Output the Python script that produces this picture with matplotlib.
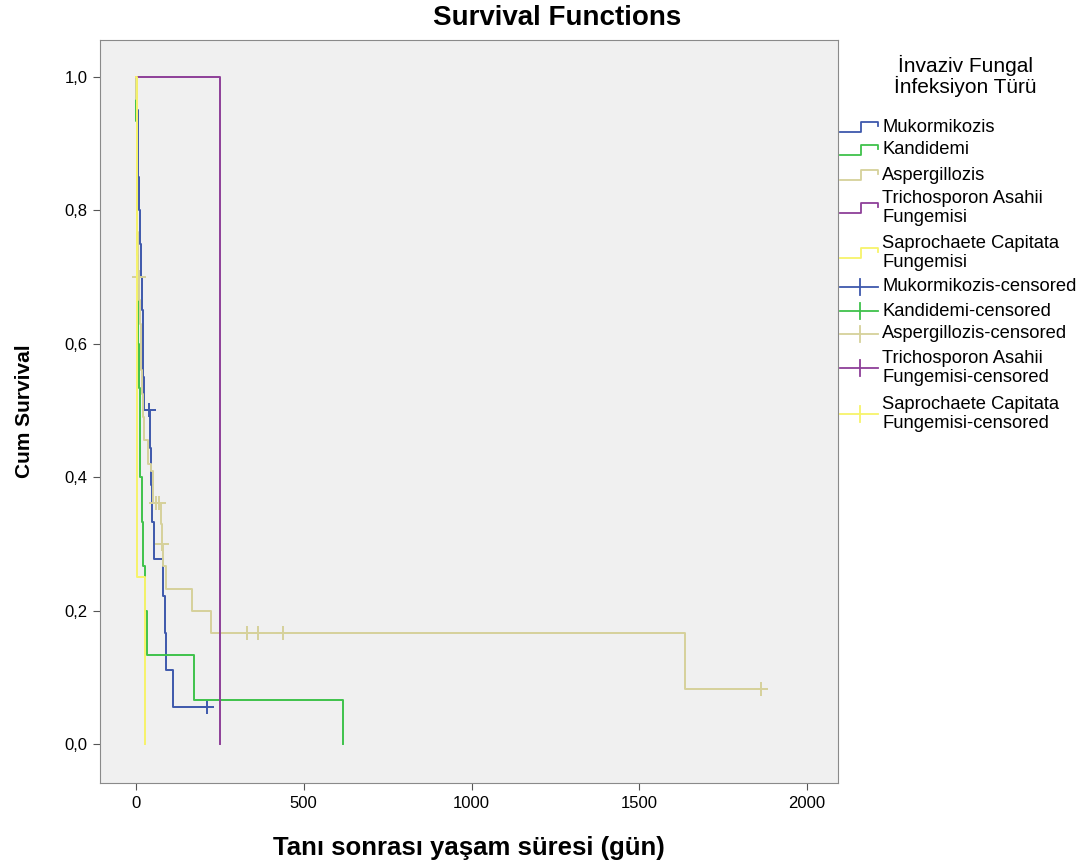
import matplotlib
matplotlib.use("Agg")
import matplotlib.pyplot as plt
import numpy as np
from matplotlib.lines import Line2D

plt.rcParams['font.family'] = ['Liberation Sans', 'DejaVu Sans']

# ---- data (days, cumulative survival) ----
muk_t = [0, 3, 5, 7, 10, 12, 15, 17, 20, 22, 24, 42, 44, 47, 54, 80, 88, 91, 112]
muk_s = [1, .95, .9, .85, .8, .75, .7, .65, .6, .55, .5, .444, .389, .333, .278, .222, .167, .111, .056]
muk_c = [40, 212]

kan_t = [0, 1, 2, 3, 4, 5, 6, 9, 11, 13, 18, 22, 28, 32, 173, 617]
kan_s = [1, .933, .867, .8, .733, .667, .6, .533, .467, .4, .333, .267, .2, .133, .067, 0]
kan_c = []

asp_t = [0, 1, 2, 2.5, 3, 3.5, 4, 4.5, 5, 5.5, 10, 12, 14, 16, 18, 21, 25, 36, 44, 50,
         76, 77, 82, 90, 166, 223, 1637]
asp_s = [1, .967, .933, .9, .867, .833, .8, .767, .733, .7, .665, .63, .595, .56, .525, .49,
         .456, .42, .41, .361, .33, .3, .267, .233, .2, .167, .083]
asp_c = [8, 60, 68, 78, 330, 363, 439, 1863]

tri_t = [0, 250]
tri_s = [1, 0]
tri_c = []

sap_t = [0, 2, 3, 4, 28]
sap_s = [1, .75, .5, .25, 0]
sap_c = []

names = ['Mukormikozis', 'Kandidemi', 'Aspergillozis',
         'Trichosporon Asahii\nFungemisi', 'Saprochaete Capitata\nFungemisi']
colors = ['#3e58ac', '#3fc24b', '#d6d19a', '#8e3f98', '#f7f36a']
groups = [(muk_t, muk_s, muk_c), (kan_t, kan_s, kan_c), (asp_t, asp_s, asp_c),
          (tri_t, tri_s, tri_c), (sap_t, sap_s, sap_c)]


def level_at(t, s, when):
    i = np.searchsorted(t, when, side='right') - 1
    return s[i]


W, H = 1091, 868
fig = plt.figure(figsize=(W / 100, H / 100), dpi=100)
ax = fig.add_axes([100 / W, 1 - 783 / H, 738 / W, 743 / H])
ax.set_facecolor('#f0f0f0')

for (t, s, c), col in zip(groups, colors):
    t = list(t)
    s = list(s)
    if c and c[-1] > t[-1]:
        t.append(c[-1])
        s.append(s[-1])
    ax.step(t, s, where='post', color=col, lw=1.4)
    if c:
        cy = [level_at(t, s, x) for x in c]
        ax.plot(c, cy, '+', color=col, ms=10, mew=1.4, ls='none')

ax.set_xlim(-107, 2092)
ax.set_ylim(-0.058, 1.055)
ax.set_xticks([0, 500, 1000, 1500, 2000])
yt = [0, 0.2, 0.4, 0.6, 0.8, 1.0]
ax.set_yticks(yt, labels=[f'{v:.1f}'.replace('.', ',') for v in yt])
ax.tick_params(labelsize=12, length=5, color='#555555', pad=4)
for sp in ax.spines.values():
    sp.set_color('#8a8a8a')

ax.set_xlabel('Tanı sonrası yaşam süresi (gün)', fontsize=18.5, fontweight='bold', labelpad=18)
ax.set_ylabel('Cum Survival', fontsize=15, fontweight='bold', labelpad=22)
fig.text(557 / W, 1 - 18 / H, 'Survival Functions', fontsize=20, fontweight='bold',
         ha='center', va='center')


# ---- legend drawn in figure pixels ----
def fx(px):
    return px / W


def fy(py):
    return 1 - py / H


fig.text(fx(965), fy(76), 'İnvaziv Fungal\nİnfeksiyon Türü', fontsize=15, ha='center',
         va='center', linespacing=1.05)

line_rows = [127, 150, 175, 208, 253]
cens_rows = [287, 311, 334, 368, 414]
text_x = 882

for name, col, yc in zip(names, colors, line_rows):
    xs = [fx(840), fx(861), fx(861), fx(878), fx(878)]
    ys = [fy(yc + 5), fy(yc + 5), fy(yc - 5), fy(yc - 5), fy(yc - 1)]
    fig.add_artist(Line2D(xs, ys, color=col, lw=1.3))
    fig.text(fx(text_x), fy(yc), name, fontsize=13.2, va='center', ha='left', linespacing=1.12)

for name, col, yc in zip(names, colors, cens_rows):
    fig.add_artist(Line2D([fx(840), fx(878)], [fy(yc), fy(yc)], color=col, lw=1.3))
    fig.add_artist(Line2D([fx(860), fx(860)], [fy(yc - 8), fy(yc + 8)], color=col, lw=1.3))
    label = name.replace('Fungemisi', 'Fungemisi-censored') if '\n' in name else name + '-censored'
    fig.text(fx(text_x), fy(yc), label, fontsize=13.2, va='center', ha='left', linespacing=1.12)

fig.savefig('out.png', dpi=100, facecolor='white')
